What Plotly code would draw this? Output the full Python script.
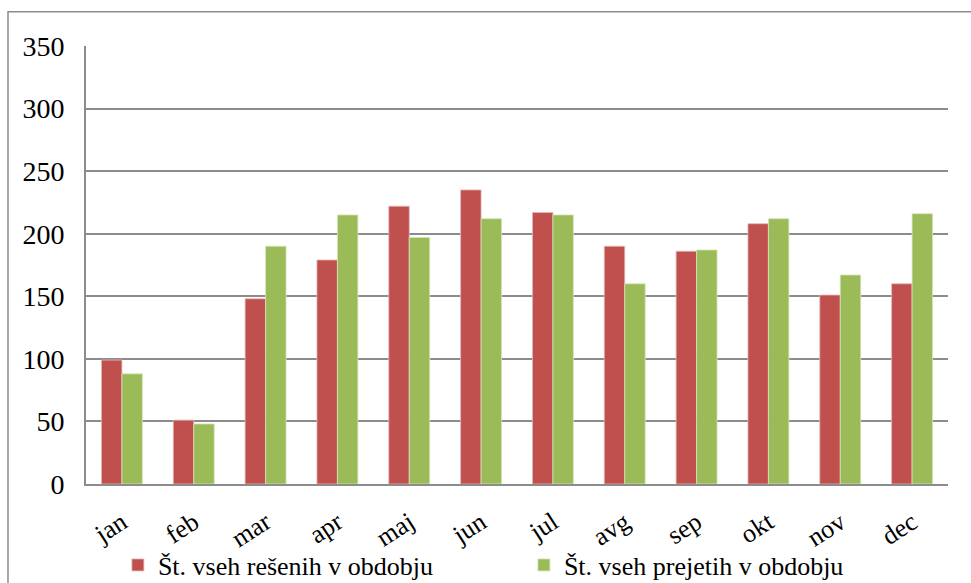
import plotly.graph_objects as go

# Monthly counts of cases
months = ["jan", "feb", "mar", "apr", "maj", "jun", "jul", "avg", "sep", "okt", "nov", "dec"]
resolved = [99, 51, 148, 179, 222, 235, 217, 190, 186, 208, 151, 160]
received = [88, 48, 190, 215, 197, 212, 215, 160, 187, 212, 167, 216]
y_ticks = [0, 50, 100, 150, 200, 250, 300, 350]

name_resolved = "Št. vseh rešenih v obdobju"
name_received = "Št. vseh prejetih v obdobju"

RED = "#C0504D"
GREEN = "#9BBB59"
GRID = "#8C8C8C"
FONT = "Liberation Serif"

fig = go.Figure()
fig.add_trace(go.Bar(
    x=months, y=resolved, name=name_resolved,
    marker=dict(color=RED, line=dict(color="#E6B9B8", width=0.8)),
))
fig.add_trace(go.Bar(
    x=months, y=received, name=name_received,
    marker=dict(color=GREEN, line=dict(color="#D7E4BD", width=0.8)),
))

fig.update_layout(
    width=971, height=583,
    margin=dict(l=86, r=23, t=46, b=99, autoexpand=False),
    paper_bgcolor="white", plot_bgcolor="white",
    barmode="group", bargap=0.43, bargroupgap=0,
    font=dict(family=FONT, size=26, color="black"),
    showlegend=True,
    legend=dict(
        orientation="h", x=0.037, xanchor="left", y=-0.185, yanchor="middle",
        entrywidth=361, font=dict(family=FONT, size=26, color="black"),
        traceorder="normal", itemwidth=30, bgcolor="rgba(0,0,0,0)",
    ),
)

fig.update_yaxes(
    range=[0, 350], tickvals=y_ticks, ticks="",
    showgrid=True, gridcolor=GRID, gridwidth=1.6,
    showline=True, linecolor=GRID, linewidth=1.6,
    zeroline=False, ticklabelstandoff=14,
    tickfont=dict(family=FONT, size=28, color="black"),
)
fig.update_xaxes(
    ticks="", tickangle=-33, ticklabelstandoff=11,
    showline=True, linecolor=GRID, linewidth=2,
    tickfont=dict(family=FONT, size=26, color="black"),
)

# Chart frame
fig.add_shape(
    type="rect", xref="paper", yref="paper",
    x0=-0.0905, x1=1.2, y0=-0.4, y1=1.078,
    line=dict(color="#8C8C8C", width=1.5), fillcolor="rgba(0,0,0,0)", layer="below",
)

fig.write_html("out.html")
